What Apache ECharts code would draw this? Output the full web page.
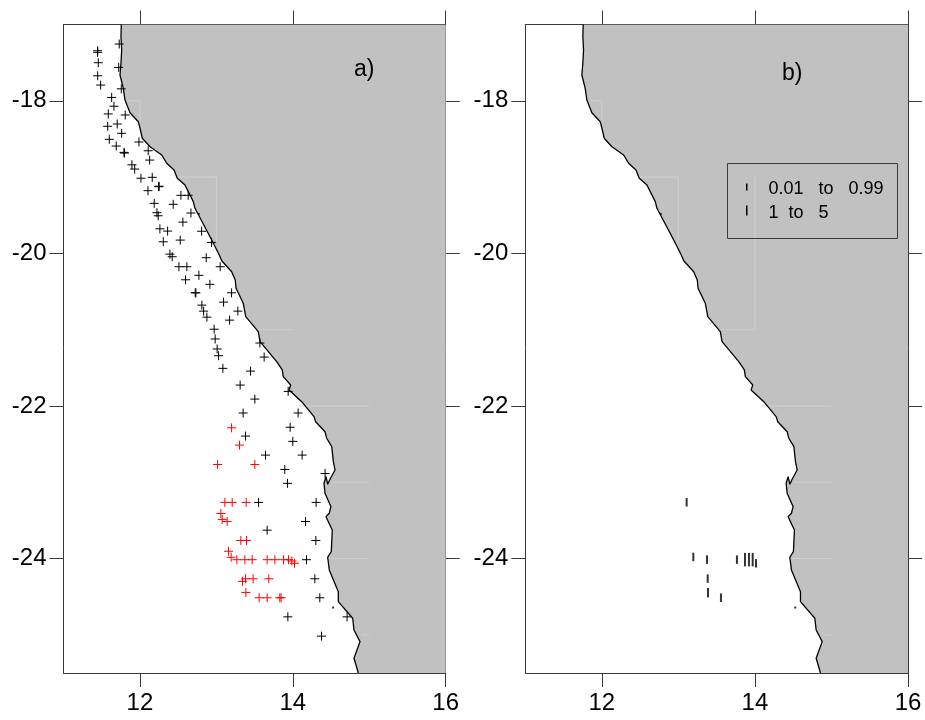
<!DOCTYPE html>
<html><head><meta charset="utf-8">
<style>html,body{margin:0;padding:0;background:#fff}#c{width:925px;height:720px}</style>
<script src="https://cdn.jsdelivr.net/npm/echarts@6/dist/echarts.min.js"></script>
</head><body><div id="c"></div>
<script>
const xTicks=[12,14,16];
const yTicks=[-24,-22,-20,-18];
const coastLon=[11.756,11.752,11.761,11.752,11.739,11.782,11.804,11.87,11.979,12.001,12.031,12.132,12.285,12.35,12.446,12.489,12.589,12.698,12.72,12.939,13.038,13.07,13.2,13.247,13.257,13.352,13.384,13.548,13.571,13.789,13.862,13.875,13.972,13.95,14.116,14.277,14.299,14.421,14.443,14.509,14.53,14.552,14.486,14.456,14.434,14.408,14.421,14.499,14.477,14.434,14.516,14.503,14.456,14.477,14.595,14.595,14.783,14.8,14.879,14.8,14.843,14.855];
const coastLat=[-17,-17.16,-17.334,-17.504,-17.662,-17.833,-17.99,-18.156,-18.274,-18.36,-18.491,-18.602,-18.71,-18.819,-18.907,-19.016,-19.104,-19.322,-19.409,-19.824,-20.021,-20.096,-20.24,-20.349,-20.457,-20.654,-20.83,-21.026,-21.157,-21.419,-21.528,-21.616,-21.725,-21.79,-21.944,-22.14,-22.206,-22.337,-22.423,-22.533,-22.73,-22.839,-22.961,-23.026,-22.927,-23.013,-23.144,-23.32,-23.406,-23.451,-23.625,-23.91,-23.983,-24.149,-24.434,-24.565,-24.782,-24.936,-25.089,-25.307,-25.451,-25.5];
const landCornersLon=[16,16];
const landCornersLat=[-25.5,-17];
const isletLon=[14.527,12.77];
const isletLat=[-24.642,-19.484];
const graticuleA=[[[11.85,-18],[12,-18],[12,-18.27]],[[12.47,-19],[13,-19],[13,-19.85]],[[13.53,-21],[14,-21]],[[14.09,-22],[15,-22]],[[14.52,-23],[15,-23]],[[14.45,-24],[15,-24]],[[14.9,-25],[15,-25]]];
const graticuleB=[[[14,-19],[14,-21]]];
const blackLon=[11.729,11.447,11.447,11.455,11.722,11.447,11.486,11.756,11.63,11.66,11.808,11.586,11.703,11.578,11.761,11.599,11.987,11.69,11.791,11.799,12.108,12.127,11.895,11.931,12.161,12.013,12.244,12.252,12.105,12.536,12.631,12.187,12.435,12.222,12.239,12.667,12.562,12.261,12.362,12.807,12.527,12.305,12.937,12.392,12.422,12.867,12.51,12.614,13.05,12.771,12.597,12.915,12.723,12.732,13.199,13.094,12.81,12.833,13.281,12.876,13.173,12.971,12.984,13.569,13.01,13.029,13.625,13.085,13.447,13.311,13.939,13.503,13.35,14.069,13.965,13.382,14,13.643,14.122,13.895,14.422,13.931,13.552,14.305,14.166,13.664,14.301,14.179,14.288,14.353,13.935,14.71,14.375];
const blackLat=[-17.256,-17.344,-17.365,-17.501,-17.562,-17.672,-17.794,-17.843,-17.956,-18.071,-18.186,-18.172,-18.304,-18.334,-18.426,-18.505,-18.54,-18.593,-18.676,-18.685,-18.655,-18.777,-18.839,-18.895,-19.003,-19.015,-19.126,-19.12,-19.178,-19.239,-19.239,-19.344,-19.357,-19.467,-19.507,-19.471,-19.59,-19.678,-19.708,-19.71,-19.826,-19.848,-19.856,-20.01,-20.044,-20.057,-20.175,-20.175,-20.175,-20.288,-20.346,-20.406,-20.517,-20.517,-20.517,-20.639,-20.678,-20.757,-20.757,-20.836,-20.875,-20.994,-21.122,-21.175,-21.253,-21.341,-21.359,-21.507,-21.543,-21.726,-21.809,-21.91,-22.092,-22.092,-22.279,-22.395,-22.464,-22.644,-22.644,-22.832,-22.885,-23.014,-23.264,-23.264,-23.514,-23.628,-23.763,-24.015,-24.265,-24.514,-24.764,-24.764,-25.017];
const redLon=[13.199,13.303,13.016,13.503,13.111,13.207,13.39,13.059,13.076,13.141,13.32,13.395,13.159,13.193,13.268,13.373,13.468,13.664,13.765,13.878,13.944,13.987,14.022,13.382,13.481,13.686,13.342,13.386,13.559,13.664,13.83,13.847];
const redLat=[-22.286,-22.513,-22.767,-22.767,-23.264,-23.264,-23.264,-23.409,-23.487,-23.514,-23.763,-23.763,-23.904,-23.983,-24.015,-24.015,-24.015,-24.015,-24.015,-24.015,-24.015,-24.032,-24.062,-24.265,-24.265,-24.265,-24.299,-24.444,-24.514,-24.514,-24.514,-24.514];
const catchLon=[13.108,13.195,13.374,13.383,13.387,13.556,13.765,13.87,13.922,13.971,14.014];
const catchLat=[-23.262,-23.979,-24.014,-24.263,-24.447,-24.513,-24.014,-24.014,-24.014,-24.014,-24.062];
const catchVal=[0.5,0.5,0.5,0.5,1,0.5,0.5,3,3,3,0.5];
const legendLabels=['0.01   to   0.99','1  to   5'];

const zip=(a,b)=>a.map((v,i)=>[v,b[i]]);
const coast=zip(coastLon,coastLat);
const land=coast.concat(zip(landCornersLon,landCornersLat));
const axisColor='#3a3a3a';
const plus='path://M4.5 0V9M0 4.5H9';

function xAxis(grid,pos,labels){return {gridIndex:grid,type:'value',position:pos,min:11,max:16,
  splitLine:{show:false},axisLine:{onZero:false,lineStyle:{color:axisColor,width:1}},
  axisTick:{show:true,length:14,customValues:xTicks,lineStyle:{color:axisColor,width:1}},
  axisLabel:labels?{show:true,customValues:xTicks,color:'#000',fontFamily:'Liberation Sans',fontSize:24,margin:18}:{show:false}};}
function yAxis(grid,pos,labels){return {gridIndex:grid,type:'value',position:pos,min:-25.5,max:-17,
  splitLine:{show:false},axisLine:{onZero:false,lineStyle:{color:axisColor,width:1}},
  axisTick:{show:true,length:14,customValues:yTicks,lineStyle:{color:axisColor,width:1}},
  axisLabel:labels?{show:true,customValues:yTicks,color:'#000',fontFamily:'Liberation Sans',fontSize:24,margin:17}:{show:false}};}

function base(g,gratList){
  const ax={xAxisIndex:g*2,yAxisIndex:g*2};
  return [
    Object.assign({type:'custom',clip:true,silent:true,z:1,data:[0],encode:{x:[],y:[]},
      renderItem:(p,api)=>({type:'polygon',shape:{points:land.map(c=>api.coord(c))},style:{fill:'#c1c1c1',stroke:null}})},ax),
    Object.assign({type:'custom',clip:true,silent:true,z:2,data:gratList.map((_,i)=>i),encode:{x:[],y:[]},
      renderItem:(p,api)=>({type:'polyline',shape:{points:gratList[p.dataIndex].map(c=>api.coord(c))},style:{fill:null,stroke:'#d0d0d0',lineWidth:1}})},ax),
    Object.assign({type:'line',data:coast,symbol:'none',silent:true,z:3,lineStyle:{color:'#000',width:1.3},clip:true},ax),
    Object.assign({type:'scatter',data:zip(isletLon,isletLat),symbol:'rect',symbolSize:2,silent:true,z:3,itemStyle:{color:'#000'}},ax)
  ];
}
function cross(data,color){return {type:'scatter',xAxisIndex:0,yAxisIndex:0,data,symbol:plus,symbolSize:9,silent:true,z:5,
  itemStyle:{color:'none',borderColor:color,borderWidth:1,opacity:1}};}

const chart=echarts.init(document.getElementById('c'),null,{renderer:'canvas'});
chart.setOption({
  animation:false,backgroundColor:'#fff',
  grid:[{left:63.5,top:24.5,width:382.2,height:648.5},{left:525.3,top:24.5,width:382.7,height:648.5}],
  xAxis:[xAxis(0,'bottom',true),xAxis(0,'top',false),xAxis(1,'bottom',true),xAxis(1,'top',false)],
  yAxis:[yAxis(0,'left',true),yAxis(0,'right',false),yAxis(1,'left',true),yAxis(1,'right',false)],
  series:[
    ...base(0,graticuleA),
    ...base(1,graticuleA.concat(graticuleB)),
    cross(zip(blackLon,blackLat),'#000'),
    cross(zip(redLon,redLat),'#ff0000'),
    {type:'scatter',xAxisIndex:2,yAxisIndex:2,silent:true,z:5,symbol:'rect',
     data:catchLon.map((v,i)=>[v,catchLat[i],catchVal[i]]),
     symbolSize:d=>[2,7.5+2*d[2]],itemStyle:{color:'#000'}}
  ],
  graphic:[
    {type:'text',left:354,top:58,style:{text:'a)',fill:'#000',font:'23px "Liberation Sans"'},z:10},
    {type:'text',left:782,top:62,style:{text:'b)',fill:'#000',font:'23px "Liberation Sans"'},z:10},
    {type:'rect',left:725,top:161,shape:{width:170,height:75},style:{fill:'none',stroke:'#3a3a3a',lineWidth:1},z:10},
    {type:'rect',left:746,top:183.5,shape:{width:1.5,height:7},style:{fill:'#000'},z:10},
    {type:'rect',left:746,top:205.5,shape:{width:1.5,height:10},style:{fill:'#000'},z:10},
    {type:'text',left:768.5,top:180,style:{text:legendLabels[0],fill:'#000',font:'18px "Liberation Sans"'},z:10},
    {type:'text',left:768.5,top:204,style:{text:legendLabels[1],fill:'#000',font:'18px "Liberation Sans"'},z:10}
  ]
});
</script></body></html>
